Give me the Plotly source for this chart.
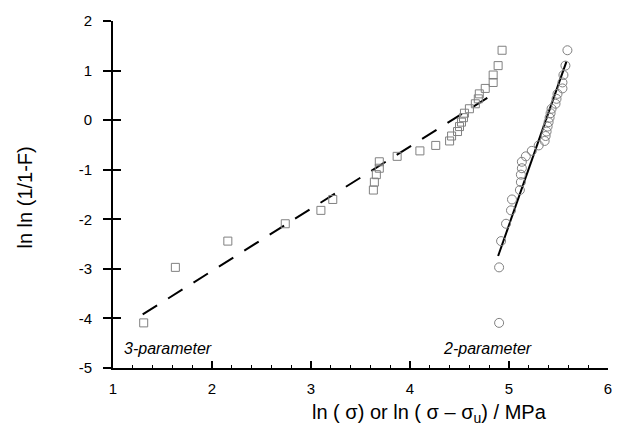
import plotly.graph_objects as go

# Weibull plot values
y_vals = [-4.09, -2.97, -2.44, -2.09, -1.82, -1.60, -1.41, -1.25, -1.10, -0.97,
          -0.84, -0.73, -0.62, -0.51, -0.42, -0.32, -0.23, -0.13, -0.04, 0.05,
          0.14, 0.23, 0.33, 0.43, 0.53, 0.64, 0.76, 0.91, 1.10, 1.41]

x_three = [1.31, 1.63, 2.16, 2.74, 3.10, 3.22, 3.63, 3.64, 3.66, 3.69,
           3.69, 3.87, 4.10, 4.26, 4.40, 4.42, 4.48, 4.50, 4.52, 4.54,
           4.55, 4.60, 4.66, 4.69, 4.70, 4.76, 4.84, 4.84, 4.89, 4.93]

x_two = [4.90, 4.90, 4.92, 4.97, 5.02, 5.03, 5.11, 5.12, 5.12, 5.13,
         5.13, 5.17, 5.23, 5.30, 5.36, 5.37, 5.38, 5.39, 5.40, 5.41,
         5.42, 5.43, 5.47, 5.48, 5.49, 5.54, 5.54, 5.55, 5.57, 5.59]

fit3_x = [1.30, 4.83]
fit3_y = [-3.92, 0.51]
fit2_x = [4.89, 5.58]
fit2_y = [-2.74, 1.18]

x_ticks = [1, 2, 3, 4, 5, 6]
x_labels = ["1", "2", "3", "4", "5", "6"]
y_ticks = [-5, -4, -3, -2, -1, 0, 1, 2]
y_labels = ["-5", "-4", "-3", "-2", "-1", "0", "1", "2"]

FONT = "Liberation Sans, Arial, Helvetica, sans-serif"
GRAY = "#808080"

fig = go.Figure()
fig.add_trace(go.Scatter(x=fit3_x, y=fit3_y, mode="lines",
                         line=dict(color="black", width=2, dash="17px,13px"),
                         showlegend=False, hoverinfo="skip"))
fig.add_trace(go.Scatter(x=fit2_x, y=fit2_y, mode="lines",
                         line=dict(color="black", width=2),
                         showlegend=False, hoverinfo="skip"))
fig.add_trace(go.Scatter(x=x_three, y=y_vals, mode="markers",
                         marker=dict(symbol="square-open", size=8, color=GRAY,
                                     line=dict(width=1, color=GRAY)),
                         showlegend=False))
fig.add_trace(go.Scatter(x=x_two, y=y_vals, mode="markers",
                         marker=dict(symbol="circle-open", size=9, color=GRAY,
                                     line=dict(width=1, color=GRAY)),
                         showlegend=False))
# invisible trace to attach the inside-tick overlay axis
fig.add_trace(go.Scatter(x=[None], y=[None], yaxis="y2", showlegend=False,
                         hoverinfo="skip"))

fig.update_layout(
    width=624, height=427,
    margin=dict(l=113, r=12, t=16, b=59),
    paper_bgcolor="white", plot_bgcolor="white",
    font=dict(family=FONT, size=15, color="black"),
    xaxis=dict(range=[1, 6], tickvals=x_ticks, ticktext=x_labels,
               ticks="inside", ticklen=7,
               tickwidth=1.5, tickcolor="black", showline=True, linewidth=2,
               linecolor="black", showgrid=False, zeroline=False,
               ticklabelstandoff=6,
               minor=dict(dtick=0.2, ticks="inside", ticklen=3, tickwidth=1,
                          tickcolor="black", showgrid=False),
               tickfont=dict(size=15)),
    yaxis=dict(range=[-5, 2], tickvals=y_ticks, ticktext=y_labels,
               ticks="outside", ticklen=8,
               tickwidth=1.5, tickcolor="black", showline=True, linewidth=2,
               linecolor="black", showgrid=False, zeroline=False,
               ticklabelstandoff=8, tickfont=dict(size=15)),
    yaxis2=dict(range=[-5, 2], tickvals=y_ticks, overlaying="y", side="left",
                ticks="inside", ticklen=8, tickwidth=1.5, tickcolor="black",
                showticklabels=False, showline=False, showgrid=False,
                zeroline=False),
    annotations=[
        dict(x=1.09, y=-4.6, xref="x", yref="y", text="<i>3-parameter</i>",
             showarrow=False, xanchor="left", yanchor="middle",
             font=dict(size=16)),
        dict(x=4.31, y=-4.6, xref="x", yref="y", text="<i>2-parameter</i>",
             showarrow=False, xanchor="left", yanchor="middle",
             font=dict(size=16)),
        dict(x=0.64, y=-0.13, xref="paper", yref="paper",
             text="ln ( σ) or ln ( σ – σ<sub>u</sub>) / MPa",
             showarrow=False, xanchor="center", yanchor="middle",
             font=dict(size=20)),
        dict(x=-0.178, y=0.491, xref="paper", yref="paper",
             text="ln ln (1/1-F)", textangle=-90,
             showarrow=False, xanchor="center", yanchor="middle",
             font=dict(size=20)),
    ],
)

fig.write_html("out.html",
               config={"displayModeBar": False},
               post_script="document.body.style.margin='0';"
                           "document.body.style.overflow='hidden';")
